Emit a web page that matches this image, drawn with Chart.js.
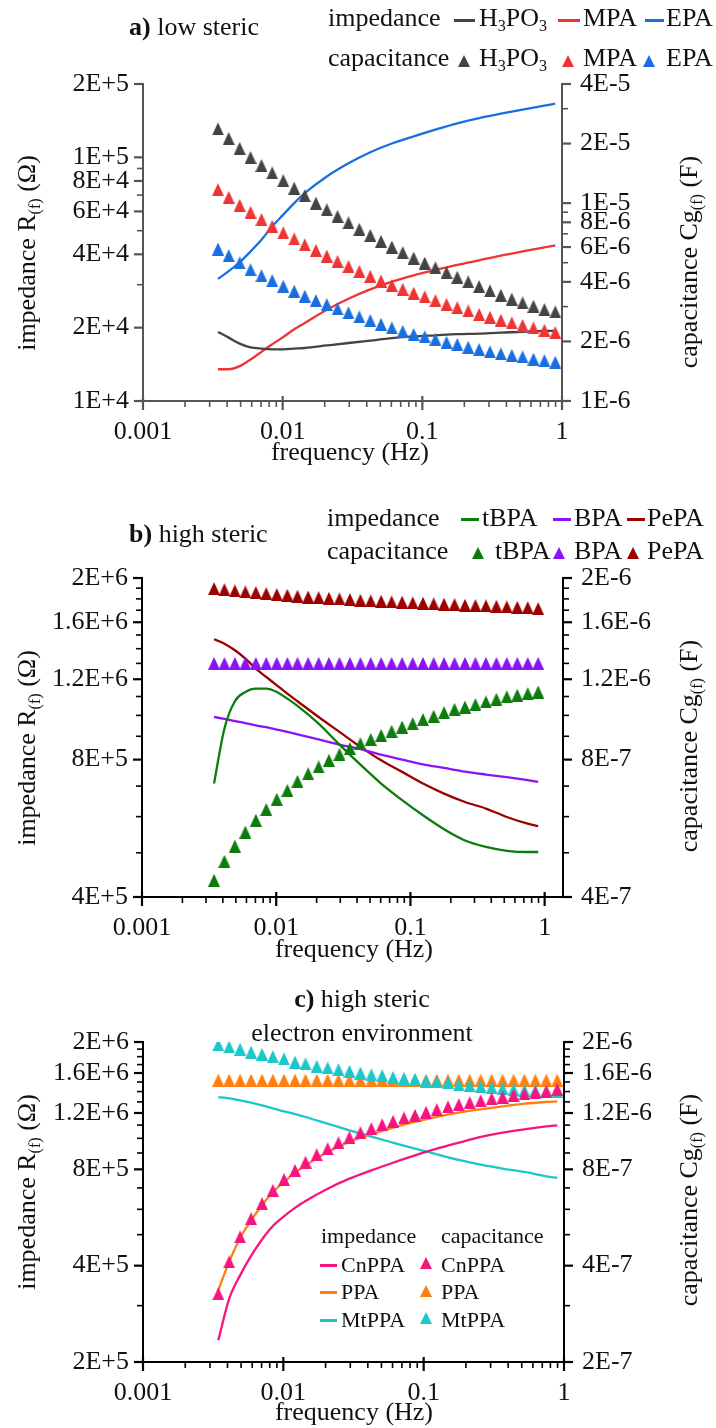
<!DOCTYPE html>
<html>
<head>
<meta charset="utf-8">
<title>impedance and capacitance vs frequency</title>
<script src="https://cdn.jsdelivr.net/npm/chart.js@4.4.1/dist/chart.umd.min.js"></script>
<style>
  body { margin: 0; background: #fff; }
  #page { position: relative; width: 716px; height: 1428px; overflow: hidden; background: #fff;
          font-family: "Liberation Serif", "Times New Roman", serif; color: #111; }
  #page canvas { position: absolute; left: 0; }
  .t { position: absolute; font-size: 26px; line-height: 26px; white-space: nowrap; z-index: 2; }
  .s { font-size: 22px; line-height: 22px; }
  .t sub { font-size: 0.62em; vertical-align: -0.28em; line-height: 0; }
  .c { transform: translateX(-50%); }
  .v { transform: translate(-50%, -50%) rotate(-90deg); }
  .dash { position: absolute; height: 3px; z-index: 2; }
  .tri { position: absolute; width: 0; height: 0; z-index: 2; border-left: 6.5px solid transparent;
         border-right: 6.5px solid transparent; border-bottom: 12px solid; }
</style>
</head>
<body>
<div id="page">
  <canvas id="chartA" width="716" height="470" style="top:0px"></canvas>
  <canvas id="chartB" width="716" height="480" style="top:470px"></canvas>
  <canvas id="chartC" width="716" height="468" style="top:960px"></canvas>

  <!-- panel a -->
  <div class="t" style="left:129px; top:14px"><b>a)</b> low steric</div>
  <div class="t" style="left:328px; top:5px">impedance</div>
  <div class="dash" style="left:454px; top:19px; width:21px; background:#444"></div>
  <div class="t" style="left:479px; top:5px">H<sub>3</sub>PO<sub>3</sub></div>
  <div class="dash" style="left:558px; top:19px; width:22px; background:#ee3535"></div>
  <div class="t" style="left:583px; top:5px">MPA</div>
  <div class="dash" style="left:645px; top:19px; width:19px; background:#1a6fe0"></div>
  <div class="t" style="left:666px; top:5px">EPA</div>
  <div class="t" style="left:328px; top:45px">capacitance</div>
  <div class="tri" style="left:458px; top:55px; border-bottom-color:#444"></div>
  <div class="t" style="left:479px; top:45px">H<sub>3</sub>PO<sub>3</sub></div>
  <div class="tri" style="left:562px; top:55px; border-bottom-color:#ee3535"></div>
  <div class="t" style="left:583px; top:45px">MPA</div>
  <div class="tri" style="left:643px; top:55px; border-bottom-color:#1a6fe0"></div>
  <div class="t" style="left:666px; top:45px">EPA</div>
  <div class="t v" style="left:27px; top:253px">impedance R<sub>(f)</sub> (Ω)</div>
  <div class="t v" style="left:689px; top:262px">capacitance Cg<sub>(f)</sub> (F)</div>
  <div class="t c" style="left:350px; top:439px">frequency (Hz)</div>

  <!-- panel b -->
  <div class="t" style="left:129px; top:521px"><b>b)</b> high steric</div>
  <div class="t" style="left:327px; top:505px">impedance</div>
  <div class="dash" style="left:461px; top:518px; width:18px; background:#0c7c0c"></div>
  <div class="t" style="left:482px; top:505px">tBPA</div>
  <div class="dash" style="left:553px; top:518px; width:18px; background:#8a14f5"></div>
  <div class="t" style="left:574px; top:505px">BPA</div>
  <div class="dash" style="left:627px; top:518px; width:18px; background:#9c0000"></div>
  <div class="t" style="left:647px; top:505px">PePA</div>
  <div class="t" style="left:327px; top:538px">capacitance</div>
  <div class="tri" style="left:472px; top:547px; border-bottom-color:#0c7c0c"></div>
  <div class="t" style="left:495px; top:538px">tBPA</div>
  <div class="tri" style="left:553px; top:547px; border-bottom-color:#8a14f5"></div>
  <div class="t" style="left:574px; top:538px">BPA</div>
  <div class="tri" style="left:627px; top:547px; border-bottom-color:#9c0000"></div>
  <div class="t" style="left:647px; top:538px">PePA</div>
  <div class="t v" style="left:27px; top:748px">impedance R<sub>(f)</sub> (Ω)</div>
  <div class="t v" style="left:689px; top:746px">capacitance Cg<sub>(f)</sub> (F)</div>
  <div class="t c" style="left:354px; top:936px">frequency (Hz)</div>

  <!-- panel c -->
  <div class="t c" style="left:362px; top:986px"><b>c)</b> high steric</div>
  <div class="t c" style="left:362px; top:1020px">electron environment</div>
  <div class="t s" style="left:321px; top:1225px">impedance</div>
  <div class="t s" style="left:441px; top:1225px">capacitance</div>
  <div class="dash" style="left:320px; top:1264px; width:17px; background:#f5157f"></div>
  <div class="t s" style="left:341px; top:1254px">CnPPA</div>
  <div class="tri" style="left:420px; top:1257px; border-bottom-color:#f5157f"></div>
  <div class="t s" style="left:441px; top:1254px">CnPPA</div>
  <div class="dash" style="left:320px; top:1291px; width:17px; background:#ff7f10"></div>
  <div class="t s" style="left:341px; top:1281px">PPA</div>
  <div class="tri" style="left:420px; top:1285px; border-bottom-color:#ff7f10"></div>
  <div class="t s" style="left:441px; top:1281px">PPA</div>
  <div class="dash" style="left:320px; top:1319px; width:17px; background:#1cc7c9"></div>
  <div class="t s" style="left:341px; top:1309px">MtPPA</div>
  <div class="tri" style="left:420px; top:1312px; border-bottom-color:#1cc7c9"></div>
  <div class="t s" style="left:441px; top:1309px">MtPPA</div>
  <div class="t v" style="left:27px; top:1192px">impedance R<sub>(f)</sub> (Ω)</div>
  <div class="t v" style="left:689px; top:1200px">capacitance Cg<sub>(f)</sub> (F)</div>
  <div class="t c" style="left:354px; top:1399px">frequency (Hz)</div>
</div>

<script>
const FONT = "'Liberation Serif', 'Times New Roman', serif";

// frequencies of the capacitance points (Hz) and of the impedance curves
const freq = [0.00344, 0.00411, 0.00492, 0.00589, 0.00705, 0.00842, 0.0101, 0.0121, 0.0144, 0.0173,
  0.0207, 0.0247, 0.0296, 0.0354, 0.0424, 0.0506, 0.0605, 0.0724, 0.0867, 0.104,
  0.124, 0.149, 0.178, 0.213, 0.255, 0.305, 0.365, 0.437, 0.522, 0.625, 0.748, 0.895];
const lineFreq = [0.00344, 0.00411, 0.00492, 0.00589, 0.00705, 0.00842, 0.0101, 0.0121, 0.0144, 0.0207,
  0.0296, 0.0424, 0.0605, 0.0867, 0.124, 0.178, 0.255, 0.365, 0.522, 0.748, 0.895];

// a) low steric - impedance (ohm)
const impH3PO3 = [1.92e4, 1.82e4, 1.72e4, 1.66e4, 1.64e4, 1.63e4, 1.63e4, 1.64e4, 1.65e4, 1.69e4,
  1.73e4, 1.77e4, 1.81e4, 1.84e4, 1.86e4, 1.88e4, 1.89e4, 1.91e4, 1.92e4, 1.94e4, 1.94e4];
const impMPA = [1.35e4, 1.35e4, 1.39e4, 1.48e4, 1.59e4, 1.71e4, 1.83e4, 1.97e4, 2.09e4, 2.37e4,
  2.63e4, 2.87e4, 3.09e4, 3.28e4, 3.45e4, 3.62e4, 3.78e4, 3.95e4, 4.11e4, 4.27e4, 4.35e4];
const impEPA = [3.17e4, 3.41e4, 3.71e4, 4.11e4, 4.59e4, 5.21e4, 5.82e4, 6.49e4, 7.13e4, 8.35e4,
  9.46e4, 1.05e5, 1.14e5, 1.22e5, 1.30e5, 1.38e5, 1.45e5, 1.51e5, 1.57e5, 1.63e5, 1.66e5];
// a) low steric - capacitance (F)
const capH3PO3 = [2.37e-5, 2.12e-5, 1.89e-5, 1.70e-5, 1.55e-5, 1.42e-5, 1.30e-5, 1.19e-5, 1.09e-5, 1.00e-5,
  9.25e-6, 8.57e-6, 7.95e-6, 7.38e-6, 6.87e-6, 6.41e-6, 6.00e-6, 5.62e-6, 5.28e-6, 4.98e-6,
  4.71e-6, 4.46e-6, 4.22e-6, 4.00e-6, 3.79e-6, 3.60e-6, 3.42e-6, 3.27e-6, 3.13e-6, 3.01e-6, 2.90e-6, 2.82e-6];
const capMPA = [1.17e-5, 1.07e-5, 9.75e-6, 8.98e-6, 8.27e-6, 7.64e-6, 7.08e-6, 6.59e-6, 6.16e-6, 5.77e-6,
  5.40e-6, 5.08e-6, 4.79e-6, 4.52e-6, 4.27e-6, 4.04e-6, 3.84e-6, 3.67e-6, 3.51e-6, 3.36e-6,
  3.22e-6, 3.08e-6, 2.96e-6, 2.85e-6, 2.74e-6, 2.65e-6, 2.56e-6, 2.48e-6, 2.41e-6, 2.34e-6, 2.28e-6, 2.22e-6];
const capEPA = [5.86e-6, 5.43e-6, 4.99e-6, 4.61e-6, 4.30e-6, 4.06e-6, 3.80e-6, 3.59e-6, 3.39e-6, 3.22e-6,
  3.07e-6, 2.92e-6, 2.79e-6, 2.66e-6, 2.55e-6, 2.44e-6, 2.34e-6, 2.25e-6, 2.17e-6, 2.11e-6,
  2.05e-6, 1.98e-6, 1.93e-6, 1.87e-6, 1.82e-6, 1.77e-6, 1.73e-6, 1.70e-6, 1.67e-6, 1.63e-6, 1.60e-6, 1.57e-6];

// b) high steric
const impTBPA = [7.09e5, 9.35e5, 1.074e6, 1.125e6, 1.144e6, 1.144e6, 1.125e6, 1.088e6, 1.049e6, 9.59e5,
  8.63e5, 7.80e5, 7.09e5, 6.52e5, 6.04e5, 5.63e5, 5.32e5, 5.15e5, 5.05e5, 5.02e5, 5.02e5];
const impBPA = [9.92e5, 9.82e5, 9.72e5, 9.62e5, 9.51e5, 9.42e5, 9.31e5, 9.20e5, 9.09e5, 8.86e5,
  8.63e5, 8.43e5, 8.20e5, 8.00e5, 7.81e5, 7.67e5, 7.53e5, 7.42e5, 7.32e5, 7.21e5, 7.15e5];
const impPePA = [1.468e6, 1.436e6, 1.389e6, 1.332e6, 1.266e6, 1.214e6, 1.164e6, 1.116e6, 1.074e6, 9.92e5,
  9.20e5, 8.53e5, 7.97e5, 7.52e5, 7.09e5, 6.74e5, 6.46e5, 6.25e5, 5.99e5, 5.79e5, 5.72e5];
const capTBPA = [4.35e-7, 4.79e-7, 5.17e-7, 5.55e-7, 5.89e-7, 6.22e-7, 6.55e-7, 6.85e-7, 7.17e-7, 7.45e-7,
  7.71e-7, 7.97e-7, 8.22e-7, 8.46e-7, 8.67e-7, 8.86e-7, 9.04e-7, 9.23e-7, 9.43e-7, 9.59e-7,
  9.79e-7, 9.96e-7, 1.014e-6, 1.031e-6, 1.043e-6, 1.056e-6, 1.070e-6, 1.085e-6, 1.098e-6, 1.107e-6, 1.116e-6, 1.125e-6];
const capBPA = [1.30e-6, 1.30e-6, 1.30e-6, 1.30e-6, 1.30e-6, 1.30e-6, 1.30e-6, 1.30e-6, 1.30e-6, 1.30e-6,
  1.30e-6, 1.30e-6, 1.30e-6, 1.30e-6, 1.30e-6, 1.30e-6, 1.30e-6, 1.30e-6, 1.30e-6, 1.30e-6,
  1.30e-6, 1.30e-6, 1.30e-6, 1.30e-6, 1.30e-6, 1.30e-6, 1.30e-6, 1.30e-6, 1.30e-6, 1.30e-6, 1.30e-6, 1.30e-6];
const capPePA = [1.896e-6, 1.886e-6, 1.874e-6, 1.864e-6, 1.858e-6, 1.848e-6, 1.839e-6, 1.833e-6, 1.824e-6, 1.817e-6,
  1.811e-6, 1.805e-6, 1.799e-6, 1.793e-6, 1.787e-6, 1.781e-6, 1.779e-6, 1.773e-6, 1.770e-6, 1.764e-6,
  1.761e-6, 1.755e-6, 1.752e-6, 1.749e-6, 1.743e-6, 1.740e-6, 1.737e-6, 1.734e-6, 1.728e-6, 1.725e-6, 1.722e-6, 1.714e-6];

// c) high steric electron environment
const impCnPPA = [2.34e5, 3.15e5, 3.73e5, 4.29e5, 4.83e5, 5.32e5, 5.70e5, 6.06e5, 6.37e5, 6.96e5,
  7.48e5, 7.94e5, 8.39e5, 8.85e5, 9.28e5, 9.69e5, 1.010e6, 1.042e6, 1.067e6, 1.090e6, 1.098e6];
const impPPA = [3.35e5, 4.11e5, 4.88e5, 5.54e5, 6.18e5, 6.80e5, 7.30e5, 7.81e5, 8.23e5, 9.06e5,
  9.74e5, 1.029e6, 1.080e6, 1.125e6, 1.166e6, 1.203e6, 1.232e6, 1.259e6, 1.283e6, 1.299e6, 1.305e6];
const impMtPPA = [1.346e6, 1.334e6, 1.314e6, 1.293e6, 1.268e6, 1.241e6, 1.214e6, 1.191e6, 1.166e6, 1.111e6,
  1.059e6, 1.012e6, 9.69e5, 9.28e5, 8.91e5, 8.56e5, 8.27e5, 8.04e5, 7.85e5, 7.61e5, 7.52e5];
const capCnPPA = [3.27e-7, 4.11e-7, 4.92e-7, 5.61e-7, 6.25e-7, 6.88e-7, 7.43e-7, 7.94e-7, 8.43e-7, 8.89e-7,
  9.28e-7, 9.69e-7, 1.007e-6, 1.042e-6, 1.072e-6, 1.103e-6, 1.130e-6, 1.158e-6, 1.180e-6, 1.206e-6,
  1.229e-6, 1.253e-6, 1.274e-6, 1.293e-6, 1.311e-6, 1.330e-6, 1.346e-6, 1.363e-6, 1.376e-6, 1.389e-6, 1.402e-6, 1.423e-6];
const capPPA = [1.52e-6, 1.52e-6, 1.52e-6, 1.52e-6, 1.52e-6, 1.52e-6, 1.52e-6, 1.52e-6, 1.52e-6, 1.52e-6,
  1.52e-6, 1.52e-6, 1.52e-6, 1.52e-6, 1.52e-6, 1.52e-6, 1.52e-6, 1.52e-6, 1.52e-6, 1.52e-6,
  1.52e-6, 1.52e-6, 1.52e-6, 1.52e-6, 1.52e-6, 1.52e-6, 1.52e-6, 1.52e-6, 1.52e-6, 1.52e-6, 1.52e-6, 1.52e-6];
const capMtPPA = [1.96e-6, 1.93e-6, 1.90e-6, 1.86e-6, 1.83e-6, 1.80e-6, 1.77e-6, 1.73e-6, 1.71e-6, 1.68e-6,
  1.66e-6, 1.64e-6, 1.62e-6, 1.60e-6, 1.58e-6, 1.57e-6, 1.55e-6, 1.54e-6, 1.53e-6, 1.51e-6,
  1.50e-6, 1.49e-6, 1.47e-6, 1.46e-6, 1.45e-6, 1.44e-6, 1.43e-6, 1.42e-6, 1.41e-6, 1.41e-6, 1.40e-6, 1.40e-6];

// tick positions and their labels ('' = minor tick)
const xTicks = [0.001, 0.002, 0.003, 0.004, 0.005, 0.006, 0.007, 0.008, 0.009,
  0.01, 0.02, 0.03, 0.04, 0.05, 0.06, 0.07, 0.08, 0.09,
  0.1, 0.2, 0.3, 0.4, 0.5, 0.6, 0.7, 0.8, 0.9, 1];
const xLabels = ['0.001', '', '', '', '', '', '', '', '', '0.01', '', '', '', '', '', '', '', '',
  '0.1', '', '', '', '', '', '', '', '', '1'];
const aLeftTicks = [1e4, 2e4, 3e4, 4e4, 5e4, 6e4, 7e4, 8e4, 9e4, 1e5, 2e5];
const aLeftLabels = ['1E+4', '2E+4', '', '4E+4', '', '6E+4', '', '8E+4', '', '1E+5', '2E+5'];
const aRightTicks = [1e-6, 2e-6, 3e-6, 4e-6, 5e-6, 6e-6, 7e-6, 8e-6, 9e-6, 1e-5, 2e-5, 3e-5, 4e-5];
const aRightLabels = ['1E-6', '2E-6', '', '4E-6', '', '6E-6', '', '8E-6', '', '1E-5', '2E-5', '', '4E-5'];
const bLeftTicks = [4e5, 5e5, 6e5, 7e5, 8e5, 9e5, 1e6, 1.1e6, 1.2e6, 1.3e6, 1.4e6, 1.5e6, 1.6e6, 1.7e6, 1.8e6, 1.9e6, 2e6];
const bLeftLabels = ['4E+5', '', '', '', '8E+5', '', '', '', '1.2E+6', '', '', '', '1.6E+6', '', '', '', '2E+6'];
const bRightTicks = [4e-7, 5e-7, 6e-7, 7e-7, 8e-7, 9e-7, 1e-6, 1.1e-6, 1.2e-6, 1.3e-6, 1.4e-6, 1.5e-6, 1.6e-6, 1.7e-6, 1.8e-6, 1.9e-6, 2e-6];
const bRightLabels = ['4E-7', '', '', '', '8E-7', '', '', '', '1.2E-6', '', '', '', '1.6E-6', '', '', '', '2E-6'];
const cLeftTicks = [2e5, 3e5, 4e5, 5e5, 6e5, 7e5, 8e5, 9e5, 1e6, 1.1e6, 1.2e6, 1.3e6, 1.4e6, 1.5e6, 1.6e6, 1.7e6, 1.8e6, 1.9e6, 2e6];
const cLeftLabels = ['2E+5', '', '4E+5', '', '', '', '8E+5', '', '', '', '1.2E+6', '', '', '', '1.6E+6', '', '', '', '2E+6'];
const cRightTicks = [2e-7, 3e-7, 4e-7, 5e-7, 6e-7, 7e-7, 8e-7, 9e-7, 1e-6, 1.1e-6, 1.2e-6, 1.3e-6, 1.4e-6, 1.5e-6, 1.6e-6, 1.7e-6, 1.8e-6, 1.9e-6, 2e-6];
const cRightLabels = ['2E-7', '', '4E-7', '', '', '', '8E-7', '', '', '', '1.2E-6', '', '', '', '1.6E-6', '', '', '', '2E-6'];

// outward tick marks, long for labelled ticks and short for the others
const tickMarks = {
  id: 'tickMarks',
  afterDraw(chart, args, opts) {
    const ctx = chart.ctx;
    ctx.save();
    ctx.strokeStyle = opts.color;
    ['x', 'y', 'y1'].forEach(id => {
      const s = chart.scales[id];
      s.ticks.forEach(t => {
        const major = !!t.label;
        const len = major ? 9 : 6;
        const p = s.getPixelForValue(t.value);
        ctx.lineWidth = major ? 2.2 : 1.6;
        ctx.beginPath();
        if (id === 'x') { ctx.moveTo(p, s.top - (major ? 5 : 0)); ctx.lineTo(p, s.top + len); }
        else if (id === 'y') { ctx.moveTo(s.right, p); ctx.lineTo(s.right - len, p); }
        else { ctx.moveTo(s.left, p); ctx.lineTo(s.left + len, p); }
        ctx.stroke();
      });
    });
    ctx.restore();
  }
};

// filled triangle used as the capacitance marker (a bit taller than equilateral)
function triMarker(color) {
  const c = document.createElement('canvas');
  c.width = 12;
  c.height = 13;
  const g = c.getContext('2d');
  g.fillStyle = color;
  g.beginPath();
  g.moveTo(6, 0);
  g.lineTo(12, 13);
  g.lineTo(0, 13);
  g.closePath();
  g.fill();
  return c;
}

function logAxis(position, min, max, ticks, labels, color, size, pad) {
  return {
    type: 'logarithmic',
    position: position,
    min: min,
    max: max,
    afterBuildTicks: s => { s.ticks = ticks.map(v => ({ value: v })); },
    afterFit: s => { if (position === 'bottom') s.height = size; else s.width = size; },
    grid: { display: false, drawTicks: false },
    border: { display: true, color: color, width: 2 },
    ticks: {
      autoSkip: false, maxRotation: 0, padding: pad, color: '#111',
      font: { family: FONT, size: 26 },
      callback: (v, i) => labels[i]
    }
  };
}

function curve(ys, color) {
  return {
    data: lineFreq.map((x, i) => ({ x: x, y: ys[i] })),
    yAxisID: 'y', borderColor: color, borderWidth: 2.3, pointRadius: 0,
    fill: false, cubicInterpolationMode: 'monotone', order: 10
  };
}

function marks(ys, color, order) {
  return {
    data: freq.map((x, i) => ({ x: x, y: ys[i] })),
    yAxisID: 'y1', showLine: false, pointStyle: triMarker(color), pointRadius: 6,
    backgroundColor: color, borderColor: color, borderWidth: 0, order: order
  };
}

function buildChart(id, o) {
  return new Chart(document.getElementById(id), {
    type: 'line',
    data: { datasets: o.datasets },
    options: {
      responsive: false,
      animation: false,
      events: [],
      layout: { padding: { top: o.top, right: 0, bottom: 0, left: 0 } },
      plugins: { legend: { display: false }, tooltip: { enabled: false }, tickMarks: { color: o.color } },
      scales: {
        x: logAxis('bottom', 0.001, o.xMax, xTicks, xLabels, o.color, o.xh, 16),
        y: logAxis('left', o.left[0], o.left[1], o.left[2], o.left[3], o.color, o.yw, 14),
        y1: logAxis('right', o.right[0], o.right[1], o.right[2], o.right[3], o.color, o.y1w, 18)
      }
    },
    plugins: [tickMarks]
  });
}

buildChart('chartA', {
  top: 84, xh: 69, yw: 143, y1w: 154, xMax: 1, color: '#555555',
  left: [1e4, 2e5, aLeftTicks, aLeftLabels],
  right: [1e-6, 4e-5, aRightTicks, aRightLabels],
  datasets: [
    marks(capH3PO3, '#444444', 1), marks(capMPA, '#ee3535', 2), marks(capEPA, '#1a6fe0', 3),
    curve(impH3PO3, '#444444'), curve(impMPA, '#ee3535'), curve(impEPA, '#1a6fe0')
  ]
});

buildChart('chartB', {
  top: 108, xh: 53, yw: 142, y1w: 153, xMax: 1.37, color: '#000000',
  left: [4e5, 2e6, bLeftTicks, bLeftLabels],
  right: [4e-7, 2e-6, bRightTicks, bRightLabels],
  datasets: [
    marks(capTBPA, '#0c7c0c', 1), marks(capBPA, '#8a14f5', 2), marks(capPePA, '#9c0000', 3),
    curve(impTBPA, '#0c7c0c'), curve(impBPA, '#8a14f5'), curve(impPePA, '#9c0000')
  ]
});

buildChart('chartC', {
  top: 82, xh: 66, yw: 143, y1w: 152, xMax: 1, color: '#000000',
  left: [2e5, 2e6, cLeftTicks, cLeftLabels],
  right: [2e-7, 2e-6, cRightTicks, cRightLabels],
  datasets: [
    marks(capCnPPA, '#f5157f', 1), marks(capMtPPA, '#1cc7c9', 2), marks(capPPA, '#ff7f10', 3),
    curve(impCnPPA, '#f5157f'), curve(impPPA, '#ff7f10'), curve(impMtPPA, '#1cc7c9')
  ]
});
</script>
</body>
</html>
